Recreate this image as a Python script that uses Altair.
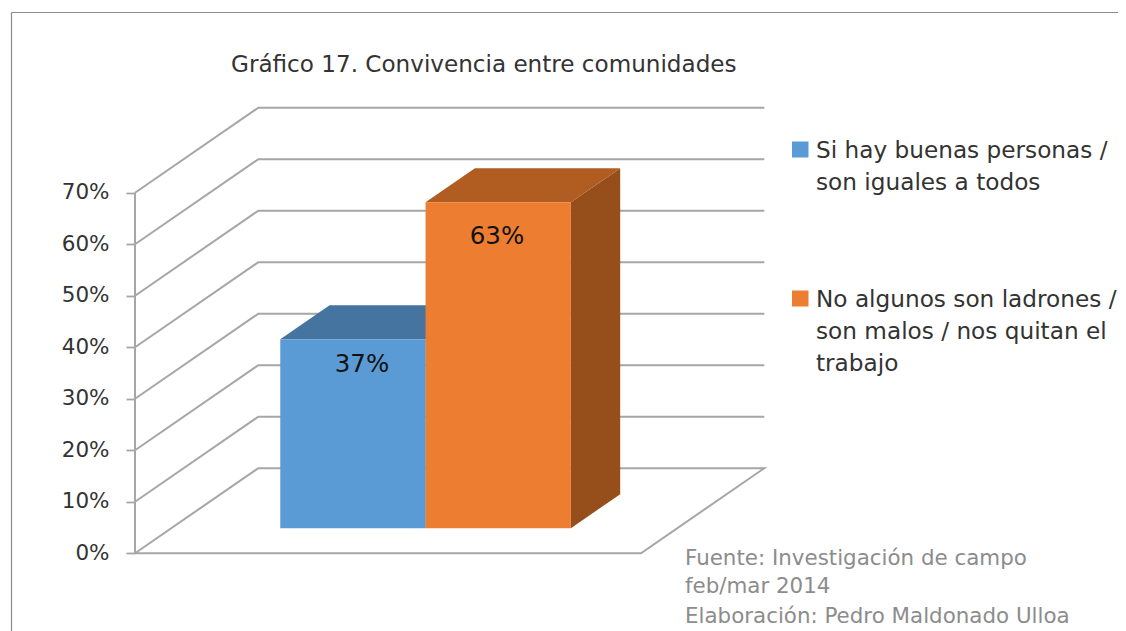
import altair as alt
import pandas as pd

# ---- values
categories = ["Si hay buenas personas /\nson iguales a todos",
              "No algunos son ladrones /\nson malos / nos quitan el\ntrabajo"]
values = [36.7, 63.3]
bar_slots = [0, 1]
ticks = [0, 10, 20, 30, 40, 50, 60, 70]
front_colors = ["#5B9BD5", "#ED7D31"]
top_colors = ["#44749F", "#B15C21"]
side_colors = ["#44749F", "#964F1B"]
title_text = "Gráfico 17. Convivencia entre comunidades"
source_lines = ["Fuente:  Investigación de campo", "feb/mar 2014", "Elaboración: Pedro Maldonado Ulloa"]

# ---- geometry of the 3-D projection
PX_PER_PCT = 5.15
ZERO_PY = 553.2
DEPTH_X = 123.3
DEPTH_V = 85 / PX_PER_PCT
FLOOR_L, FLOOR_R = 135.0, 641.0
BAR_X0, BAR_W = 244.0, 145.3
Z0, Z1 = 25 / 85, 59 / 85
W, H = 1110, 623

GRID = "#A6A6A6"
FONT = "DejaVu Sans"

x_scale = alt.Scale(domain=[8, 8 + W], range=[0, W], nice=False, zero=False)
y_scale = alt.Scale(domain=[(ZERO_PY - 8) / PX_PER_PCT, (ZERO_PY - 8 - H) / PX_PER_PCT],
                    range=[0, H], nice=False, zero=False)
X = alt.X("x:Q", scale=x_scale, axis=None)
Y = alt.Y("y:Q", scale=y_scale, axis=alt.Axis(
    values=ticks, labelExpr="datum.value + '%'", offset=-(FLOOR_L - 8), title=None, grid=False, domain=False,
    tickColor=GRID, tickWidth=1.8, tickSize=9, labelFont=FONT, labelFontSize=21.5,
    labelColor="#333333", labelPadding=17))


def proj(x, v, z):
    return x + DEPTH_X * z, v + DEPTH_V * z


# walls and floor
wall = []
for t in ticks:
    pts = [proj(FLOOR_L, t, 0), proj(FLOOR_L, t, 1), proj(FLOOR_R, t, 1)]
    if t == 0:
        pts += [proj(FLOOR_R, t, 0), proj(FLOOR_L, t, 0)]
    for i, (px, pv) in enumerate(pts):
        wall.append({"level": t, "i": i, "x": px, "y": pv})
grid = alt.Chart(pd.DataFrame(wall)).mark_line(color=GRID, strokeWidth=2, strokeJoin="miter").encode(
    x=X, y=Y, detail="level:N", order="i:Q")

axis_line = alt.Chart(pd.DataFrame({"x": [FLOOR_L, FLOOR_L], "y": [ticks[0], ticks[-1]], "i": [0, 1]})).mark_line(
    color=GRID, strokeWidth=2).encode(x=X, y=Y, order="i:Q")

layers = [grid, axis_line]

# bars
for slot, v, fc, tc, sc in zip(bar_slots, values, front_colors, top_colors, side_colors):
    x0 = BAR_X0 + slot * BAR_W
    x1 = x0 + BAR_W
    # right side face
    a = proj(x1, v, Z0); b = proj(x1, v, Z1); c = proj(x1, 0, Z0); d = proj(x1, 0, Z1)
    side = pd.DataFrame({"x": [a[0], b[0]], "y": [a[1], b[1]], "y2": [c[1], d[1]]})
    layers.append(alt.Chart(side).mark_area(orient="vertical", color=sc).encode(x=X, y=Y, y2="y2:Q"))
    # top face
    e = proj(x0, v, Z0); f = proj(x0, v, Z1)
    top = pd.DataFrame({"y": [e[1], f[1]], "x": [e[0], f[0]], "x2": [a[0], b[0]]})
    layers.append(alt.Chart(top).mark_area(orient="horizontal", color=tc).encode(y=Y, x=X, x2="x2:Q"))
    # front face
    front = pd.DataFrame({"x": [e[0]], "x2": [a[0]], "y": [e[1]], "y2": [c[1]]})
    layers.append(alt.Chart(front).mark_rect(color=fc).encode(x=X, x2="x2:Q", y=Y, y2="y2:Q"))

# data labels
label_pos = [(362, 365), (497, 237)]
for v, (lx, ly) in zip(values, label_pos):
    layers.append(alt.Chart(pd.DataFrame({"t": [f"{round(v)}%"]})).mark_text(
        font=FONT, fontSize=24.5, color="#111111", align="center", baseline="middle").encode(
        text="t:N", x=alt.value(lx - 8), y=alt.value(ly - 8)))


def text_layer(text, px, py, size, color):
    return alt.Chart(pd.DataFrame({"t": [text]})).mark_text(
        font=FONT, fontSize=size, color=color, align="left", baseline="middle").encode(
        text="t:N", x=alt.value(px - 8), y=alt.value(py - 8))


layers.append(text_layer(title_text, 231, 65, 23.1, "#333333"))

# legend
legend_y = [(150.5, 32), (299.5, 32)]
for cat, col, (ly, step) in zip(categories, front_colors, legend_y):
    layers.append(alt.Chart(pd.DataFrame({"a": [0]})).mark_rect(color=col).encode(
        x=alt.value(792 - 8), x2=alt.value(808.5 - 8), y=alt.value(ly - 9 - 8), y2=alt.value(ly + 7 - 8)))
    for i, line in enumerate(cat.split("\n")):
        layers.append(text_layer(line, 816, ly + i * step, 23.2, "#333333"))

# source note
for line, py in zip(source_lines, [559, 587, 617]):
    layers.append(text_layer(line, 685, py, 21.4, "#8C8C8C"))

# frame of the picture
frame_c = "#8C8C8C"
layers.append(alt.Chart(pd.DataFrame({"a": [0]})).mark_rule(color=frame_c, strokeWidth=1.2).encode(
    x=alt.value(3.5), x2=alt.value(W), y=alt.value(4.5)))
layers.append(alt.Chart(pd.DataFrame({"a": [0]})).mark_rule(color=frame_c, strokeWidth=1.2).encode(
    x=alt.value(3.5), y=alt.value(4.5), y2=alt.value(H)))

chart = alt.layer(*layers).resolve_scale(x="shared", y="shared").properties(
    width=W, height=H, padding=0, background="white",
    autosize=alt.AutoSizeParams(type="none")
).configure_view(stroke=None)

chart.save("out.html", embed_options={"renderer": "svg", "actions": False})
